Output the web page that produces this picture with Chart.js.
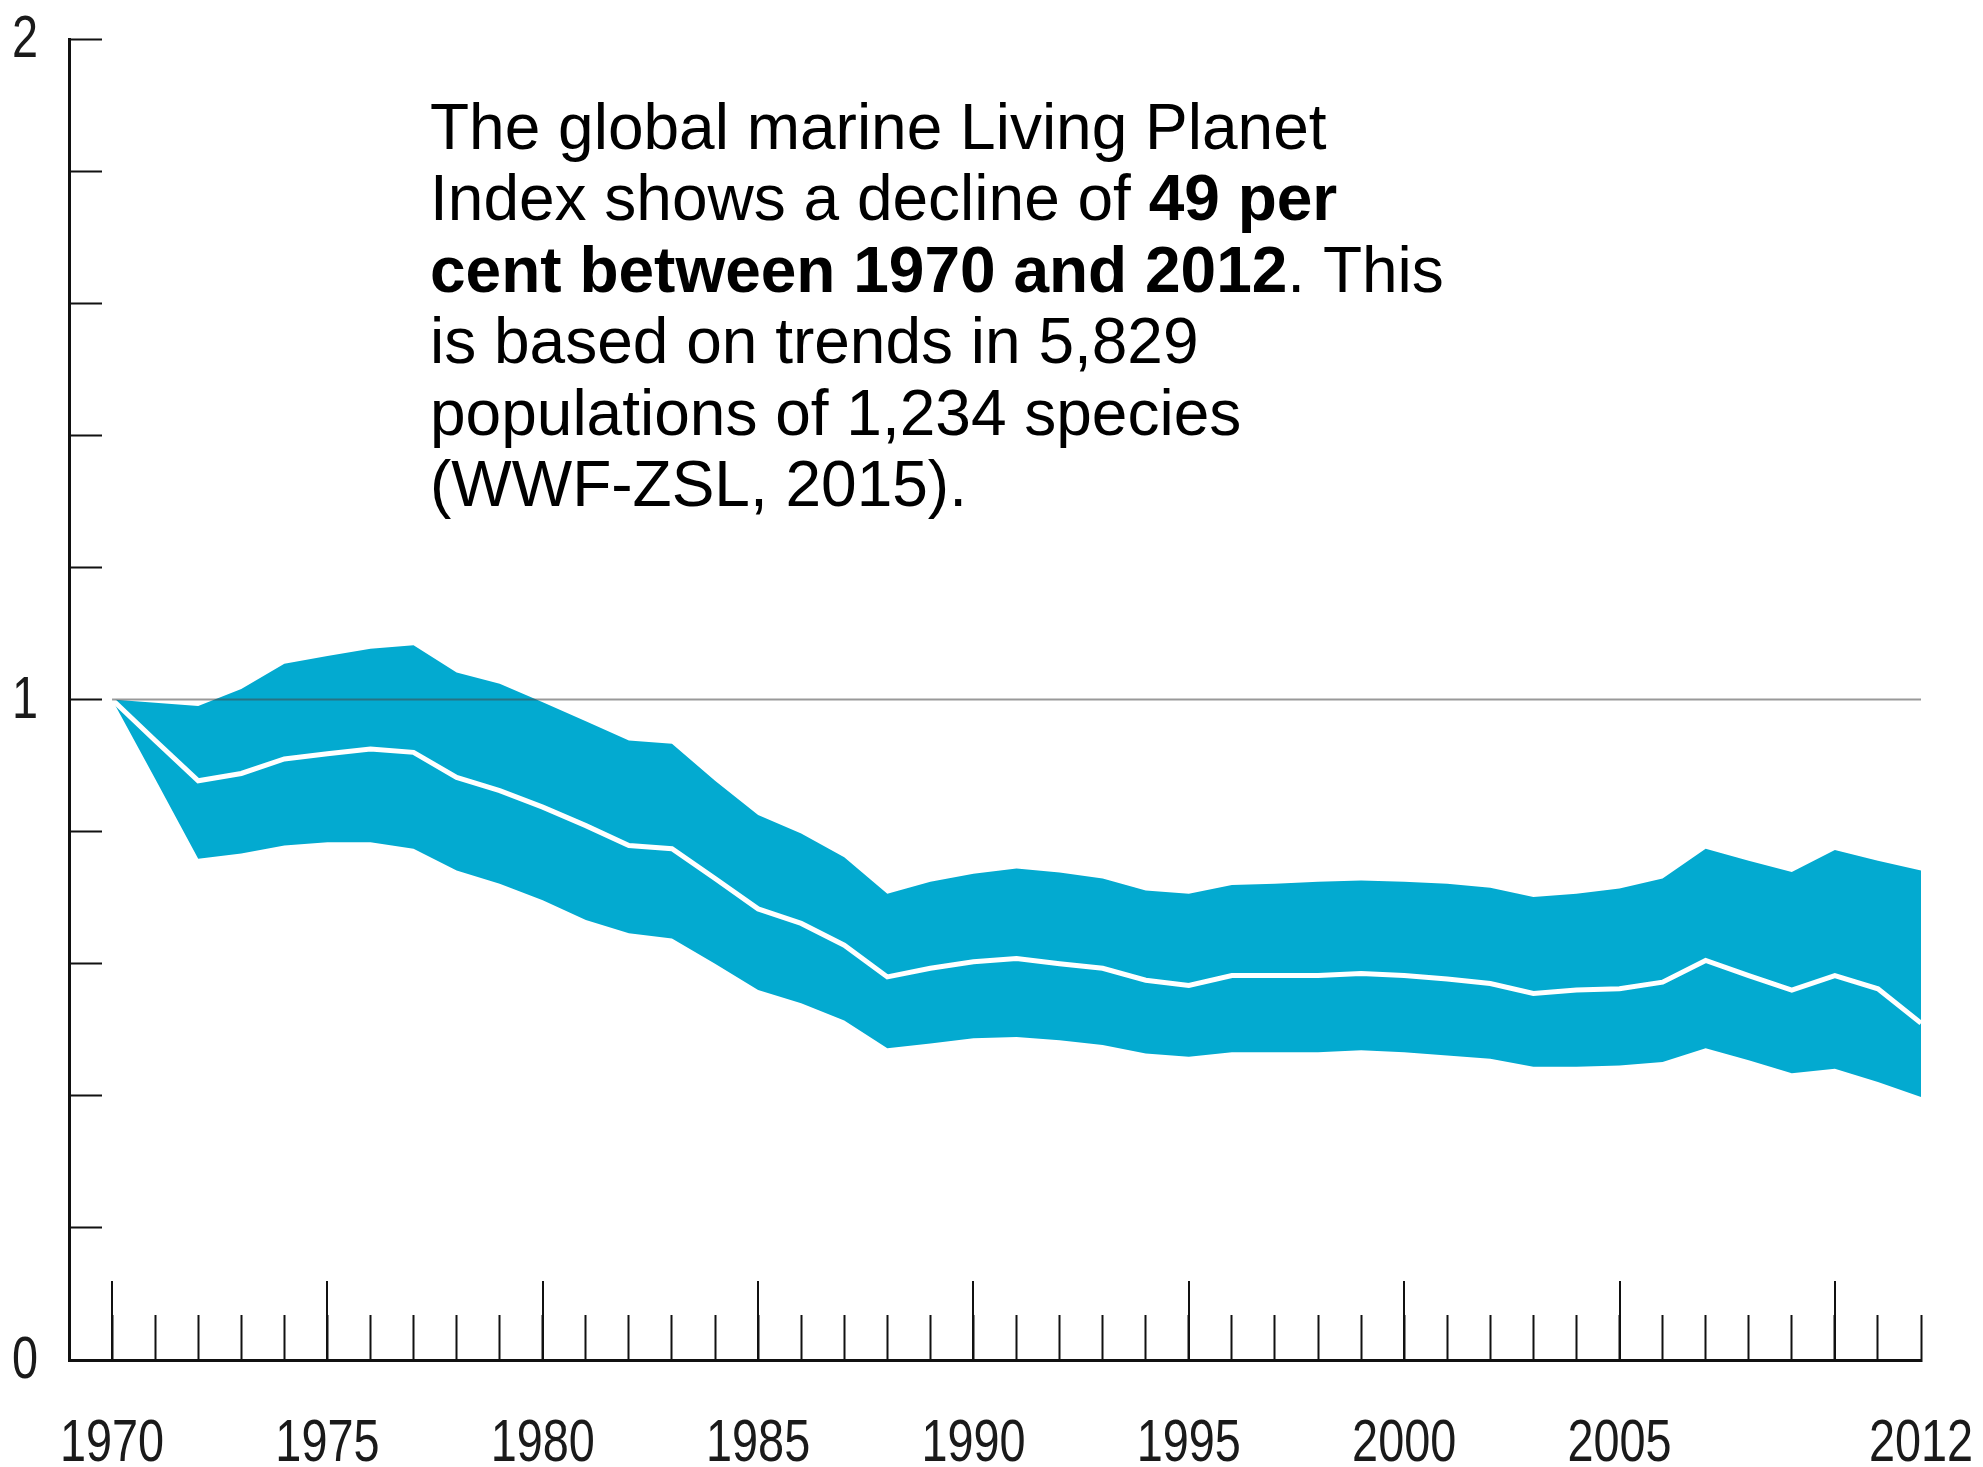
<!DOCTYPE html>
<html>
<head>
<meta charset="utf-8">
<title>Global marine Living Planet Index</title>
<script src="https://cdn.jsdelivr.net/npm/chart.js@4.4.1/dist/chart.umd.min.js"></script>
<style>
  html, body { margin: 0; padding: 0; background: #ffffff; }
  canvas { display: block; }
</style>
</head>
<body>
<canvas id="lpi" width="1983" height="1467"></canvas>
<script>
// Years covered by the index
const years = [
  1970, 1971, 1972, 1973, 1974, 1975, 1976, 1977, 1978, 1979,
  1980, 1981, 1982, 1983, 1984, 1985, 1986, 1987, 1988, 1989,
  1990, 1991, 1992, 1993, 1994, 1995, 1996, 1997, 1998, 1999,
  2000, 2001, 2002, 2003, 2004, 2005, 2006, 2007, 2008, 2009,
  2010, 2011, 2012
];

// Index value (1970 = 1)
const indexValue = [
  1.000, 0.938, 0.877, 0.888, 0.910, 0.918, 0.925, 0.920, 0.882, 0.862,
  0.837, 0.809, 0.779, 0.774, 0.729, 0.683, 0.661, 0.628, 0.580, 0.593,
  0.603, 0.608, 0.600, 0.593, 0.575, 0.567, 0.582, 0.582, 0.582, 0.585,
  0.582, 0.577, 0.570, 0.555, 0.560, 0.562, 0.572, 0.605, 0.582, 0.560,
  0.582, 0.562, 0.510
];

// Upper confidence limit
const upperLimit = [
  1.000, 0.995, 0.990, 1.016, 1.054, 1.066, 1.077, 1.082, 1.041, 1.024,
  0.996, 0.967, 0.938, 0.933, 0.877, 0.825, 0.797, 0.761, 0.706, 0.724,
  0.736, 0.744, 0.738, 0.729, 0.711, 0.706, 0.719, 0.721, 0.724, 0.726,
  0.724, 0.721, 0.715, 0.701, 0.706, 0.714, 0.729, 0.774, 0.756, 0.739,
  0.772, 0.756, 0.741
];

// Lower confidence limit
const lowerLimit = [
  1.000, 0.880, 0.759, 0.767, 0.779, 0.784, 0.784, 0.774, 0.741, 0.721,
  0.696, 0.666, 0.646, 0.638, 0.600, 0.560, 0.540, 0.514, 0.472, 0.479,
  0.487, 0.489, 0.484, 0.477, 0.464, 0.459, 0.466, 0.466, 0.466, 0.469,
  0.466, 0.461, 0.456, 0.444, 0.444, 0.446, 0.451, 0.472, 0.454, 0.434,
  0.441, 0.421, 0.398
];

// Baseline reference (index = 1)
const baselineYears = [1970, 2012];
const baselineValue = [1, 1];

// Axis ticks and labels
const yTickValues = [0, 0.2, 0.4, 0.6, 0.8, 1, 1.2, 1.4, 1.6, 1.8, 2];
const yLabelValues = [0, 1, 2];
const xLabelYears = [1970, 1975, 1980, 1985, 1990, 1995, 2000, 2005, 2012];
const majorTickYears = [1970, 1975, 1980, 1985, 1990, 1995, 2000, 2005, 2010];

// Caption text: each line is a list of [text, bold]
const noteLines = [
  [["The global marine Living Planet", false]],
  [["Index shows a decline of ", false], ["49 per", true]],
  [["cent between 1970 and 2012", true], [". This", false]],
  [["is based on trends in 5,829", false]],
  [["populations of 1,234 species", false]],
  [["(WWF-ZSL, 2015).", false]]
];

const BAND = 'rgb(3, 170, 208)';
const INK = '#111111';
const LABEL_FONT = '60px "Liberation Sans", Arial, sans-serif';
const LABEL_SQUEEZE = 0.78;   // narrow, condensed-looking axis numerals

const toPoints = (xs, ys) => xs.map((x, i) => ({ x: x, y: ys[i] }));

// Condensed text helper: draws with a horizontal squeeze around the anchor
function squeezedText(ctx, txt, x, y, align) {
  ctx.save();
  ctx.translate(x, y);
  ctx.scale(LABEL_SQUEEZE, 1);
  ctx.textAlign = align;
  ctx.fillText(txt, 0, 0);
  ctx.restore();
}

// Longer tick marks every five years, plus narrow axis numerals
const axisDecor = {
  id: 'axisDecor',
  afterDraw(chart) {
    const xs = chart.scales.x;
    const ys = chart.scales.y;
    const ctx = chart.ctx;
    const base = xs.top;

    ctx.save();
    ctx.strokeStyle = INK;
    ctx.lineWidth = 2;
    majorTickYears.forEach(yr => {
      const px = Math.round(xs.getPixelForValue(yr));
      ctx.beginPath();
      ctx.moveTo(px, base);
      ctx.lineTo(px, base - 79);
      ctx.stroke();
    });

    ctx.fillStyle = '#1a1a1a';
    ctx.font = LABEL_FONT;
    ctx.textBaseline = 'alphabetic';
    xLabelYears.forEach(yr => {
      squeezedText(ctx, String(yr), xs.getPixelForValue(yr), base + 101, 'center');
    });
    yLabelValues.forEach(v => {
      squeezedText(ctx, String(v), ys.right - 31, ys.getPixelForValue(v) + 18, 'right');
    });
    ctx.restore();
  }
};

// Explanatory caption with mixed regular / bold runs
const captionText = {
  id: 'captionText',
  afterDraw(chart) {
    const ctx = chart.ctx;
    const left = 430, firstBaseline = 149, lineStep = 71.4, size = 64;
    ctx.save();
    ctx.fillStyle = '#000000';
    ctx.textBaseline = 'alphabetic';
    ctx.textAlign = 'left';
    noteLines.forEach((runs, i) => {
      let x = left;
      const y = firstBaseline + i * lineStep;
      runs.forEach(([txt, bold]) => {
        ctx.font = (bold ? 'bold ' : '') + size + 'px "Liberation Sans", Arial, sans-serif';
        ctx.fillText(txt, x, y);
        x += ctx.measureText(txt).width;
      });
    });
    ctx.restore();
  }
};

const noLabelPadding = s => {
  s.paddingTop = 0; s.paddingBottom = 0; s.paddingLeft = 0; s.paddingRight = 0;
};

new Chart(document.getElementById('lpi'), {
  type: 'line',
  data: {
    datasets: [
      {
        label: 'Lower limit',
        data: toPoints(years, lowerLimit),
        borderWidth: 0,
        pointRadius: 0,
        fill: false,
        order: 3
      },
      {
        label: 'Upper limit',
        data: toPoints(years, upperLimit),
        borderWidth: 0,
        pointRadius: 0,
        backgroundColor: BAND,
        fill: '-1',
        order: 2
      },
      {
        label: 'Living Planet Index',
        data: toPoints(years, indexValue),
        borderColor: '#ffffff',
        borderWidth: 5,
        pointRadius: 0,
        fill: false,
        order: 1
      },
      {
        label: 'Baseline',
        data: toPoints(baselineYears, baselineValue),
        borderColor: 'rgba(70, 70, 70, 0.55)',
        borderWidth: 2,
        pointRadius: 0,
        fill: false,
        order: 0
      }
    ]
  },
  options: {
    responsive: false,
    animation: false,
    devicePixelRatio: 1,
    layout: { padding: { top: 39, right: 62, left: 0, bottom: 0 } },
    plugins: {
      legend: { display: false },
      tooltip: { enabled: false }
    },
    elements: { line: { tension: 0 } },
    scales: {
      x: {
        type: 'linear',
        min: 1969,
        max: 2012,
        afterBuildTicks: s => { s.ticks = years.map(v => ({ value: v })); },
        afterFit: s => { s.height = 107; noLabelPadding(s); },
        border: { display: true, color: INK, width: 3 },
        grid: {
          display: true,
          drawOnChartArea: false,
          drawTicks: true,
          tickLength: -45,
          tickWidth: 2,
          tickColor: INK,
          color: INK
        },
        ticks: { display: false, autoSkip: false }
      },
      y: {
        type: 'linear',
        min: 0,
        max: 2,
        afterBuildTicks: s => { s.ticks = yTickValues.map(v => ({ value: v })); },
        afterFit: s => { s.width = 69; noLabelPadding(s); },
        border: { display: true, color: INK, width: 3 },
        grid: {
          display: true,
          drawOnChartArea: false,
          drawTicks: true,
          tickLength: -33,
          tickWidth: 2,
          tickColor: INK,
          color: INK
        },
        ticks: { display: false, autoSkip: false }
      }
    }
  },
  plugins: [axisDecor, captionText]
});
</script>
</body>
</html>
